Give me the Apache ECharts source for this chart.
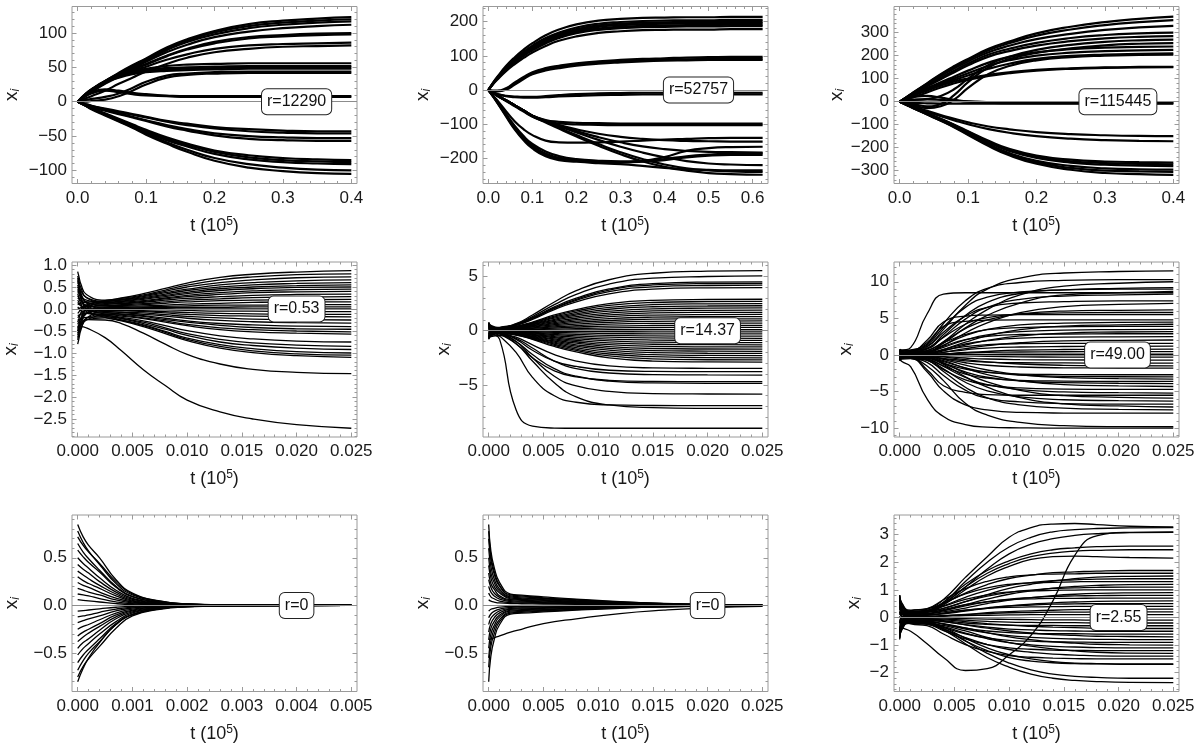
<!DOCTYPE html>
<html><head><meta charset="utf-8">
<script src="https://cdn.jsdelivr.net/npm/echarts@6/dist/echarts.min.js"></script>
<style>html,body{margin:0;padding:0;background:#fff}#c{width:1201px;height:744px}</style>
</head><body><div id="c"></div>
<script>
// ================= DATA =================
const rLabels = ['r=12290', 'r=52757', 'r=115445', 'r=0.53', 'r=14.37', 'r=49.00', 'r=0', 'r=0', 'r=2.55'];

// ---- panel 1 ----
const p1Time = [0, 0.01, 0.02, 0.04, 0.06, 0.08, 0.1, 0.13, 0.16, 0.2, 0.25, 0.3, 0.35, 0.4];
const p1Lines = [
[0,9,17,30,42,53,63,79,91,103,113,118,121,123],
[0,9,17,30,41,52,62,77,89,101,110,115,118,120],
[0,8,16,29,40,51,60,75,87,98,107,112,115,117],
[0,8,16,28,39,49,58,72,83,94,102,107,110,112],
[0,8,15,27,38,47,55,67,77,87,94,97,99,100],
[0,7,15,27,37,46,54,66,76,85,92,95,97,98],
[0,7,14,26,36,44,51,61,69,77,82,84,85,86],
[0,4,8,16,26,35,44,55,64,72,77,80,81,82],
[0,10,18,30,38,44,48,52,54,55,56,56,56,56],
[0,10,18,29,37,42,46,49,50,51,52,52,52,52],
[0,9,17,29,36,41,44,47,48,49,50,50,50,50],
[0,9,17,28,35,40,43,45,46,47,48,48,48,48],
[0,2,4,7,12,20,29,38,41,43,44,44,44,44],
[0,0,1,3,8,16,25,35,39,41,42,42,42,42],
[0,8,14,18,16,13,11,9,8,8,8,8,8,8],
[0,7,12,16,14,11,9,8,7,7,7,7,7,7],
[0,-3,-6,-10,-14,-18,-22,-28,-32,-37,-40,-42,-43,-43],
[0,-3,-6,-11,-15,-19,-23,-29,-34,-39,-43,-45,-46,-46],
[0,-4,-7,-12,-17,-22,-27,-34,-40,-46,-50,-52,-53,-53],
[0,-4,-8,-13,-18,-23,-28,-36,-42,-49,-54,-56,-57,-57],
[0,-4,-9,-17,-25,-33,-41,-52,-61,-71,-78,-82,-84,-85],
[0,-5,-9,-18,-26,-34,-43,-54,-63,-73,-81,-85,-87,-88],
[0,-5,-10,-18,-27,-35,-44,-56,-65,-76,-84,-88,-90,-91],
[0,-5,-10,-19,-28,-37,-46,-59,-70,-82,-91,-96,-99,-100],
[0,-5,-11,-20,-29,-38,-48,-61,-73,-86,-96,-101,-104,-105]
];
const p1XTicks = [0, 0.1, 0.2, 0.3, 0.4];
const p1XTickLabels = ['0.0', '0.1', '0.2', '0.3', '0.4'];
const p1YTicks = [-100, -50, 0, 50, 100];
const p1YTickLabels = ['\u2212100', '\u221250', '0', '50', '100'];

// ---- panel 2 ----
const p2Time = [0, 0.01, 0.02, 0.04, 0.06, 0.08, 0.1, 0.13, 0.16, 0.2, 0.25, 0.3, 0.35, 0.4, 0.45, 0.5, 0.55, 0.6226];
const p2Lines = [
[0,20,38,70,96,118,137,160,177,192,203,208,211,212,213,213,214,214],
[0,19,36,66,91,112,130,152,168,183,194,199,202,203,204,204,205,205],
[0,19,35,64,88,109,127,148,164,178,189,194,197,198,199,199,200,200],
[0,18,34,62,86,106,123,144,160,174,185,190,193,194,195,195,196,196],
[0,17,33,60,83,103,119,140,156,170,180,185,188,189,190,190,191,191],
[0,17,32,58,81,100,116,136,152,166,176,181,184,185,186,186,187,187],
[0,16,30,55,76,94,110,129,144,157,167,172,175,176,177,177,178,178],
[0,-2,-2,5,22,38,52,64,71,78,84,88,91,93,95,96,97,97],
[0,-3,-3,3,19,35,49,60,67,74,80,84,87,89,90,91,92,92],
[0,-3,-4,1,16,32,46,57,64,71,77,81,84,86,87,88,88,88],
[0,-6,-12,-17,-19,-20,-20,-18,-15,-12,-10,-9,-8,-8,-8,-8,-8,-8],
[0,-6,-12,-18,-21,-22,-22,-21,-19,-17,-15,-14,-13,-13,-13,-13,-13,-13],
[0,-8,-16,-30,-45,-60,-75,-88,-93,-96,-97,-98,-98,-98,-98,-98,-98,-98],
[0,-8,-17,-32,-48,-63,-78,-92,-98,-101,-102,-103,-103,-103,-103,-103,-103,-103],
[0,-8,-16,-30,-45,-60,-75,-90,-102,-115,-128,-137,-143,-147,-149,-150,-151,-151],
[0,-8,-16,-30,-45,-60,-75,-91,-106,-124,-146,-166,-183,-197,-208,-215,-218,-220],
[0,-8,-16,-30,-45,-60,-76,-93,-110,-132,-158,-182,-202,-218,-229,-235,-238,-240],
[0,-8,-16,-31,-46,-61,-77,-95,-113,-136,-163,-188,-209,-225,-236,-243,-246,-248],
[0,-15,-30,-62,-92,-115,-132,-148,-153,-154,-153,-151,-148,-145,-143,-141,-140,-140],
[0,-16,-33,-70,-105,-135,-158,-180,-193,-202,-207,-209,-207,-196,-178,-170,-167,-166],
[0,-17,-35,-73,-110,-140,-163,-186,-198,-205,-210,-211,-208,-202,-194,-189,-186,-185],
[0,-17,-36,-75,-113,-144,-167,-190,-201,-207,-211,-212,-210,-205,-197,-192,-190,-190],
[0,-18,-37,-77,-116,-147,-171,-194,-205,-210,-214,-217,-222,-228,-232,-234,-235,-235],
[0,-8,-16,-30,-45,-60,-75,-90,-104,-120,-138,-153,-165,-173,-178,-181,-182,-183]
];
const p2XTicks = [0, 0.1, 0.2, 0.3, 0.4, 0.5, 0.6];
const p2XTickLabels = ['0.0', '0.1', '0.2', '0.3', '0.4', '0.5', '0.6'];
const p2YTicks = [-200, -100, 0, 100, 200];
const p2YTickLabels = ['\u2212200', '\u2212100', '0', '100', '200'];

// ---- panel 3 ----
const p3Time = [0, 0.01, 0.02, 0.04, 0.06, 0.08, 0.1, 0.13, 0.16, 0.2, 0.25, 0.3, 0.35, 0.4];
const p3Lines = [
[0,20,40,80,120,155,186,230,261,297,326,346,360,370],
[0,20,40,78,117,151,182,224,254,287,314,333,346,355],
[0,19,38,75,112,145,175,215,243,272,295,312,323,330],
[0,18,36,70,104,136,166,205,230,256,277,290,297,300],
[0,17,34,66,98,128,158,196,220,244,263,275,282,285],
[0,5,8,12,25,55,100,160,195,225,247,260,267,270],
[0,-5,-10,-20,-10,30,85,150,185,212,232,245,252,255],
[0,15,30,58,85,110,135,170,195,215,228,235,238,240],
[0,15,29,55,80,102,124,156,180,200,213,220,223,225],
[0,14,28,52,75,95,114,143,165,186,199,205,208,210],
[0,-8,-15,-28,-20,10,60,120,155,180,194,200,203,205],
[0,12,25,48,70,88,101,117,128,138,145,149,151,152],
[0,10,20,40,62,80,95,112,124,135,143,147,149,150],
[0,5,8,10,8,4,1,-2,-4,-5,-5,-4,-4,-4],
[0,-3,-5,-7,-8,-8,-8,-8,-8,-8,-8,-8,-8,-8],
[0,12,20,25,18,8,0,-4,-6,-6,-6,-6,-6,-6],
[0,-10,-20,-40,-58,-74,-90,-108,-120,-132,-141,-146,-149,-150],
[0,-11,-22,-44,-63,-81,-98,-119,-135,-150,-161,-167,-170,-172],
[0,-12,-25,-50,-74,-100,-128,-170,-205,-234,-252,-260,-263,-265],
[0,-12,-25,-51,-75,-102,-131,-174,-210,-240,-259,-267,-270,-272],
[0,-13,-26,-52,-77,-104,-134,-178,-214,-245,-265,-274,-278,-280],
[0,-13,-27,-54,-80,-108,-139,-185,-223,-257,-279,-290,-294,-295],
[0,-14,-28,-55,-82,-110,-142,-189,-228,-264,-288,-300,-303,-305],
[0,-14,-28,-56,-83,-112,-145,-193,-233,-270,-296,-310,-315,-318]
];
const p3XTicks = [0, 0.1, 0.2, 0.3, 0.4];
const p3XTickLabels = ['0.0', '0.1', '0.2', '0.3', '0.4'];
const p3YTicks = [-300, -200, -100, 0, 100, 200, 300];
const p3YTickLabels = ['\u2212300', '\u2212200', '\u2212100', '0', '100', '200', '300'];

// ---- panel 4 ----
const p4Time = [0, 0.0001, 0.0003, 0.0008, 0.0025, 0.004, 0.006, 0.008, 0.01, 0.013, 0.016, 0.02, 0.025];
const p4Lines = [
[0.85,0.75,0.56,0.33,0.20,0.25,0.35,0.47,0.59,0.72,0.79,0.84,0.87],
[-0.3,-0.23,-0.08,0.09,0.19,0.24,0.32,0.43,0.54,0.66,0.73,0.78,0.8],
[0.6,0.54,0.41,0.26,0.18,0.22,0.3,0.4,0.5,0.6,0.66,0.71,0.73],
[0.1,0.11,0.13,0.16,0.17,0.21,0.28,0.37,0.45,0.55,0.6,0.64,0.66],
[-0.6,-0.49,-0.26,0.01,0.16,0.2,0.26,0.34,0.42,0.5,0.55,0.58,0.6],
[0.4,0.36,0.29,0.2,0.15,0.18,0.24,0.31,0.38,0.46,0.5,0.53,0.55],
[0.75,0.66,0.48,0.26,0.14,0.17,0.22,0.28,0.35,0.42,0.46,0.49,0.5],
[-0.1,-0.07,0,0.08,0.12,0.15,0.19,0.25,0.31,0.37,0.41,0.44,0.45],
[0.25,0.23,0.19,0.14,0.11,0.13,0.17,0.23,0.28,0.33,0.37,0.39,0.4],
[-0.45,-0.37,-0.2,-0.01,0.1,0.12,0.15,0.2,0.24,0.28,0.31,0.33,0.34],
[0.5,0.44,0.31,0.16,0.08,0.1,0.12,0.16,0.2,0.23,0.26,0.27,0.28],
[0,0.01,0.03,0.06,0.07,0.08,0.1,0.13,0.16,0.19,0.2,0.21,0.22],
[-0.7,-0.59,-0.36,-0.1,0.05,0.06,0.07,0.09,0.11,0.13,0.15,0.16,0.16],
[0.3,0.26,0.18,0.09,0.04,0.04,0.05,0.06,0.07,0.09,0.09,0.1,0.1],
[-0.2,-0.17,-0.1,-0.02,0.02,0.02,0.03,0.03,0.04,0.04,0.05,0.05,0.05],
[0.65,0.55,0.36,0.14,0.01,0.01,0.01,0.01,0,0,0,0,0],
[-0.5,-0.43,-0.28,-0.1,0,0,-0.01,-0.02,-0.03,-0.05,-0.05,-0.06,-0.06],
[0.15,0.12,0.07,0.01,-0.02,-0.03,-0.04,-0.06,-0.08,-0.1,-0.11,-0.12,-0.12],
[-0.35,-0.3,-0.21,-0.09,-0.03,-0.04,-0.06,-0.09,-0.12,-0.15,-0.16,-0.17,-0.18],
[0.45,0.38,0.23,0.05,-0.05,-0.07,-0.09,-0.13,-0.17,-0.2,-0.23,-0.24,-0.25],
[-0.8,-0.69,-0.47,-0.21,-0.06,-0.08,-0.12,-0.16,-0.21,-0.26,-0.29,-0.31,-0.32],
[0.2,0.16,0.07,-0.02,-0.08,-0.11,-0.15,-0.21,-0.27,-0.33,-0.36,-0.39,-0.4],
[-0.15,-0.14,-0.12,-0.1,-0.09,-0.12,-0.17,-0.24,-0.3,-0.37,-0.42,-0.45,-0.46],
[0.55,0.45,0.25,0.02,-0.11,-0.14,-0.2,-0.27,-0.35,-0.43,-0.47,-0.5,-0.52],
[-0.55,-0.49,-0.36,-0.21,-0.12,-0.16,-0.22,-0.3,-0.38,-0.47,-0.52,-0.55,-0.57],
[0.05,0.02,-0.04,-0.1,-0.14,-0.19,-0.27,-0.38,-0.49,-0.61,-0.68,-0.73,-0.75],
[-0.65,-0.58,-0.43,-0.25,-0.15,-0.21,-0.3,-0.43,-0.56,-0.69,-0.77,-0.82,-0.85],
[0.35,0.27,0.12,-0.06,-0.16,-0.22,-0.33,-0.46,-0.6,-0.75,-0.83,-0.89,-0.92],
[-0.25,-0.24,-0.22,-0.19,-0.18,-0.25,-0.36,-0.51,-0.66,-0.81,-0.9,-0.97,-1.0],
[0.7,0.57,0.3,-0.01,-0.19,-0.26,-0.38,-0.53,-0.69,-0.85,-0.95,-1.02,-1.05],
[-0.4,-0.37,-0.31,-0.24,-0.2,-0.27,-0.4,-0.56,-0.72,-0.89,-0.99,-1.06,-1.1],
[-0.5,-0.44,-0.33,-0.24,-0.25,-0.33,-0.55,-0.8,-1.03,-1.25,-1.37,-1.44,-1.47],
[-0.42,-0.4,-0.4,-0.43,-0.65,-0.95,-1.38,-1.74,-2.07,-2.34,-2.5,-2.63,-2.71]
];
const p4XTicks = [0, 0.005, 0.01, 0.015, 0.02, 0.025];
const p4XTickLabels = ['0.000', '0.005', '0.010', '0.015', '0.020', '0.025'];
const p4YTicks = [-2.5, -2, -1.5, -1, -0.5, 0, 0.5, 1];
const p4YTickLabels = ['\u22122.5', '\u22122.0', '\u22121.5', '\u22121.0', '\u22120.5', '0.0', '0.5', '1.0'];

// ---- panel 5 ----
const p5Time = [0, 0.0002, 0.001, 0.0025, 0.004, 0.006, 0.008, 0.011, 0.015, 0.02, 0.025];
const p5Lines = [
[0.6,0.35,0.3,0.65,1.45,2.65,3.7,4.7,5.3,5.5,5.55],
[-0.3,0,0.28,0.6,1.3,2.4,3.35,4.3,4.85,5.0,5.05],
[0.2,0.24,0.27,0.55,1.2,2.2,3.0,3.85,4.35,4.48,4.5],
[0.8,0.5,0.26,0.55,1.15,2.1,2.9,3.75,4.22,4.35,4.37],
[-0.6,-0.15,0.25,0.5,1.1,2.05,2.8,3.6,4.05,4.17,4.2],
[0.4,0.32,0.24,0.5,1.05,1.95,2.65,3.4,3.83,3.95,3.97],
[-0.2,0,0.2,0.4,0.8,1.45,1.95,2.5,2.8,2.88,2.9],
[0.5,0.35,0.19,0.38,0.75,1.35,1.82,2.33,2.6,2.68,2.7],
[-0.7,-0.25,0.18,0.35,0.7,1.25,1.7,2.15,2.4,2.48,2.5],
[0.1,0.14,0.17,0.33,0.65,1.15,1.56,1.98,2.21,2.28,2.3],
[0.7,0.43,0.16,0.3,0.6,1.05,1.43,1.8,2.02,2.08,2.1],
[-0.4,-0.12,0.15,0.28,0.55,0.95,1.3,1.63,1.83,1.88,1.9],
[0.3,0.22,0.14,0.25,0.5,0.85,1.15,1.46,1.64,1.69,1.7],
[-0.55,-0.2,0.13,0.22,0.44,0.75,1.02,1.29,1.44,1.49,1.5],
[0.6,0.36,0.12,0.2,0.38,0.65,0.88,1.12,1.25,1.29,1.3],
[-0.1,0,0.1,0.17,0.33,0.55,0.75,0.94,1.06,1.09,1.1],
[0.35,0.22,0.09,0.14,0.27,0.45,0.61,0.77,0.86,0.89,0.9],
[-0.75,-0.34,0.07,0.11,0.21,0.35,0.47,0.6,0.67,0.69,0.7],
[0.15,0.1,0.05,0.08,0.15,0.25,0.34,0.43,0.48,0.5,0.5],
[0.75,0.39,0.03,0.05,0.09,0.15,0.2,0.26,0.29,0.3,0.3],
[-0.3,-0.14,0.01,0.02,0.03,0.05,0.07,0.09,0.1,0.1,0.1],
[0.45,0.22,-0.01,-0.02,-0.03,-0.05,-0.07,-0.09,-0.1,-0.1,-0.1],
[-0.5,-0.26,-0.03,-0.05,-0.09,-0.15,-0.2,-0.26,-0.29,-0.3,-0.3],
[0.25,0.1,-0.05,-0.08,-0.15,-0.25,-0.34,-0.43,-0.48,-0.5,-0.5],
[-0.15,-0.11,-0.07,-0.11,-0.21,-0.35,-0.47,-0.6,-0.67,-0.69,-0.7],
[0.55,0.23,-0.09,-0.14,-0.27,-0.45,-0.61,-0.77,-0.86,-0.89,-0.9],
[-0.65,-0.38,-0.1,-0.17,-0.33,-0.55,-0.75,-0.94,-1.06,-1.09,-1.1],
[0.05,-0.03,-0.12,-0.2,-0.38,-0.65,-0.88,-1.12,-1.25,-1.29,-1.3],
[0.65,0.26,-0.13,-0.22,-0.44,-0.75,-1.02,-1.29,-1.44,-1.49,-1.5],
[-0.35,-0.25,-0.14,-0.25,-0.5,-0.85,-1.15,-1.46,-1.64,-1.69,-1.7],
[0.2,0.03,-0.15,-0.28,-0.55,-0.95,-1.3,-1.63,-1.83,-1.88,-1.9],
[-0.8,-0.48,-0.16,-0.3,-0.6,-1.05,-1.43,-1.8,-2.02,-2.08,-2.1],
[0.4,0.12,-0.17,-0.33,-0.65,-1.15,-1.56,-1.98,-2.21,-2.28,-2.3],
[-0.25,-0.22,-0.18,-0.35,-0.7,-1.25,-1.7,-2.15,-2.4,-2.48,-2.5],
[0.7,0.26,-0.19,-0.38,-0.75,-1.35,-1.82,-2.33,-2.6,-2.68,-2.7],
[-0.45,-0.32,-0.2,-0.4,-0.8,-1.45,-1.95,-2.5,-2.8,-2.88,-2.9],
[0.3,0.05,-0.2,-0.6,-1.3,-2.2,-2.8,-3.25,-3.43,-3.47,-3.48],
[-0.6,-0.4,-0.25,-0.8,-1.8,-2.8,-3.3,-3.65,-3.76,-3.78,-3.78],
[0.1,-0.05,-0.25,-0.7,-1.6,-2.8,-3.5,-3.9,-4.05,-4.08,-4.09],
[0.5,0.1,-0.3,-1.2,-2.5,-3.7,-4.25,-4.58,-4.68,-4.7,-4.7],
[-0.2,-0.25,-0.3,-1.0,-2.2,-3.5,-4.2,-4.65,-4.82,-4.85,-4.86],
[-0.4,-0.4,-0.4,-1.0,-2.5,-4.2,-5.1,-5.6,-5.8,-5.84,-5.85],
[0.35,0,-0.5,-2.0,-4.3,-6.0,-6.6,-6.85,-6.9,-6.92,-6.92],
[-0.7,-0.55,-0.45,-1.2,-2.8,-4.8,-6.1,-6.85,-7.1,-7.16,-7.17],
[0,-0.2,-0.8,-7.3,-8.8,-8.98,-9.0,-9.0,-9.0,-9.0,-9.0]
];
const p5XTicks = [0, 0.005, 0.01, 0.015, 0.02, 0.025];
const p5XTickLabels = ['0.000', '0.005', '0.010', '0.015', '0.020', '0.025'];
const p5YTicks = [-5, 0, 5];
const p5YTickLabels = ['\u22125', '0', '5'];

// ---- panel 6 ----
const p6Time = [0, 0.0002, 0.001, 0.0025, 0.004, 0.006, 0.008, 0.011, 0.015, 0.02, 0.025];
const p6Lines = [
[0.5,0.6,0.7,1.2,3.5,6.8,9.0,10.5,11.2,11.4,11.5],
[-0.3,0.15,0.6,1.5,4.3,7.4,9.1,9.9,10.2,10.3,10.3],
[0.7,0.65,0.6,0.5,1.8,4.2,6.2,8.2,9.4,9.8,10.0],
[-0.6,0,0.55,0.9,2.8,5.4,7.2,8.4,8.9,9.1,9.2],
[0.2,0.35,0.5,1.35,3.8,6.5,7.9,8.6,8.9,9.0,9.0],
[-0.1,0.2,0.5,0.45,1.6,3.7,5.4,7.1,8.2,8.5,8.7],
[0.4,0.6,1.0,5.6,8.3,8.5,8.5,8.5,8.5,8.5,8.5],
[0.8,0.65,0.5,0.8,2.5,4.9,6.5,7.6,8.05,8.2,8.3],
[-0.5,0,0.45,1.1,3.1,5.3,6.5,7.1,7.3,7.4,7.4],
[0.3,0.35,0.4,0.35,1.3,3.0,4.4,5.8,6.6,6.9,7.05],
[-0.7,-0.15,0.4,0.6,1.8,3.6,4.8,5.6,6.0,6.1,6.15],
[0.6,0.5,0.35,0.9,2.4,4.2,5.1,5.6,5.75,5.8,5.8],
[0.1,0.2,0.35,2.0,4.5,5.3,5.45,5.5,5.5,5.5,5.5],
[-0.4,-0.05,0.3,1.7,3.9,4.6,4.75,4.8,4.8,4.8,4.8],
[0.45,0.35,0.27,0.45,1.35,2.65,3.5,4.1,4.35,4.45,4.5],
[-0.2,0.05,0.25,0.2,0.75,1.75,2.6,3.45,3.95,4.1,4.2],
[0.75,0.5,0.23,0.6,1.65,2.8,3.45,3.75,3.85,3.9,3.9],
[-0.75,-0.27,0.21,0.35,1.05,2.05,2.75,3.2,3.4,3.47,3.5],
[0.15,0.17,0.19,0.16,0.58,1.35,2.0,2.6,3.0,3.14,3.2],
[-0.45,-0.14,0.17,0.45,1.2,2.1,2.55,2.8,2.87,2.9,2.9],
[0.55,0.35,0.15,0.25,0.75,1.5,1.95,2.3,2.43,2.48,2.5],
[-0.6,-0.25,0.12,0.1,0.37,0.86,1.27,1.68,1.93,2.0,2.05],
[0.25,0.17,0.1,0.24,0.67,1.15,1.4,1.54,1.58,1.6,1.6],
[-0.15,-0.04,0.07,0.12,0.36,0.71,0.94,1.09,1.16,1.19,1.2],
[0.65,0.35,0.05,0.04,0.14,0.34,0.5,0.66,0.75,0.78,0.8],
[-0.35,-0.15,0.03,0.05,0.14,0.27,0.35,0.41,0.44,0.45,0.45],
[0.35,0.18,0.01,0.02,0.04,0.07,0.09,0.1,0.1,0.1,0.1],
[-0.8,-0.4,-0.02,-0.02,-0.05,-0.13,-0.19,-0.25,-0.28,-0.29,-0.3],
[0.05,0,-0.04,-0.07,-0.21,-0.41,-0.55,-0.64,-0.68,-0.69,-0.7],
[0.5,0.22,-0.07,-0.17,-0.46,-0.79,-0.97,-1.06,-1.09,-1.1,-1.1],
[-0.25,-0.17,-0.09,-0.08,-0.27,-0.63,-0.93,-1.23,-1.41,-1.47,-1.5],
[0.7,0.3,-0.11,-0.18,-0.54,-1.06,-1.4,-1.64,-1.75,-1.78,-1.8],
[-0.55,-0.36,-0.16,-0.4,-1.13,-1.94,-2.38,-2.6,-2.67,-2.7,-2.7],
[0.2,0,-0.18,-0.3,-0.9,-1.77,-2.34,-2.73,-2.91,-2.97,-3.0],
[-0.4,-0.3,-0.2,-0.17,-0.6,-1.39,-2.05,-2.7,-3.1,-3.23,-3.3],
[0.6,0.2,-0.22,-0.54,-1.5,-2.6,-3.17,-3.46,-3.56,-3.6,-3.6],
[-0.7,-0.47,-0.23,-0.39,-1.17,-2.3,-3.04,-3.55,-3.78,-3.86,-3.9],
[0.1,-0.08,-0.26,-0.22,-0.77,-1.8,-2.67,-3.53,-4.04,-4.21,-4.3],
[-0.1,-0.2,-0.28,-0.7,-2.0,-3.4,-4.1,-4.5,-4.65,-4.7,-4.7],
[0.4,0.05,-0.31,-0.52,-1.56,-3.07,-4.06,-4.73,-5.04,-5.15,-5.2],
[-0.3,-0.3,-0.35,-2.0,-4.2,-5.1,-5.4,-5.5,-5.5,-5.5,-5.5],
[0.75,0.2,-0.35,-0.3,-1.06,-2.48,-3.66,-4.84,-5.55,-5.78,-5.9],
[-0.5,-0.45,-0.38,-0.63,-1.89,-3.72,-4.91,-5.73,-6.11,-6.24,-6.3],
[0.3,-0.05,-0.4,-1.0,-2.8,-4.8,-5.9,-6.4,-6.63,-6.7,-6.7],
[-0.2,-0.3,-0.42,-0.36,-1.28,-2.98,-4.4,-5.82,-6.67,-6.96,-7.1],
[0.55,0.05,-0.45,-0.75,-2.25,-4.4,-5.85,-6.8,-7.25,-7.42,-7.5],
[-0.65,-0.55,-0.5,-2.3,-4.9,-6.8,-7.5,-7.85,-7.93,-7.95,-7.95],
[0.15,-0.1,-0.3,-1.5,-3.5,-6.6,-8.2,-9.2,-9.65,-9.78,-9.8],
[-0.45,-0.9,-1.6,-6.0,-8.4,-9.5,-9.85,-9.95,-10,-10,-10]
];
const p6XTicks = [0, 0.005, 0.01, 0.015, 0.02, 0.025];
const p6XTickLabels = ['0.000', '0.005', '0.010', '0.015', '0.020', '0.025'];
const p6YTicks = [-10, -5, 0, 5, 10];
const p6YTickLabels = ['\u221210', '\u22125', '0', '5', '10'];

// ---- panel 7 ----
const p7Time = [0, 0.0001, 0.0002, 0.0004, 0.0007, 0.001, 0.0015, 0.002, 0.003, 0.005];
const p7Lines = [
[0.85,0.72,0.63,0.5,0.27,0.13,0.047,0.017,0.003,0],
[0.78,0.66,0.57,0.43,0.23,0.11,0.04,0.014,0.003,0],
[0.72,0.63,0.56,0.44,0.25,0.12,0.045,0.016,0.003,0],
[0.65,0.56,0.49,0.37,0.2,0.095,0.035,0.013,0.002,0],
[0.58,0.51,0.45,0.35,0.19,0.09,0.033,0.012,0.002,0],
[0.5,0.44,0.39,0.29,0.16,0.075,0.028,0.01,0.002,0],
[0.43,0.38,0.34,0.25,0.14,0.065,0.024,0.009,0.002,0],
[0.36,0.32,0.28,0.21,0.12,0.054,0.02,0.007,0.001,0],
[0.3,0.26,0.23,0.18,0.1,0.045,0.017,0.006,0.001,0],
[0.24,0.21,0.19,0.14,0.077,0.036,0.013,0.005,0.001,0],
[0.18,0.16,0.14,0.11,0.058,0.027,0.01,0.004,0.001,0],
[0.12,0.11,0.1,0.072,0.038,0.018,0.007,0.002,0,0],
[0.06,0.054,0.048,0.036,0.019,0.009,0.003,0.001,0,0],
[-0.06,-0.054,-0.048,-0.036,-0.019,-0.009,-0.003,-0.001,0,0],
[-0.12,-0.11,-0.1,-0.072,-0.038,-0.018,-0.007,-0.002,0,0],
[-0.18,-0.16,-0.14,-0.11,-0.058,-0.027,-0.01,-0.004,-0.001,0],
[-0.25,-0.22,-0.2,-0.15,-0.08,-0.038,-0.014,-0.005,-0.001,0],
[-0.32,-0.28,-0.25,-0.19,-0.1,-0.048,-0.018,-0.006,-0.001,0],
[-0.38,-0.33,-0.29,-0.22,-0.12,-0.057,-0.021,-0.008,-0.002,0],
[-0.45,-0.39,-0.35,-0.26,-0.14,-0.068,-0.025,-0.009,-0.002,0],
[-0.52,-0.45,-0.4,-0.3,-0.17,-0.078,-0.029,-0.01,-0.002,0],
[-0.6,-0.52,-0.46,-0.35,-0.19,-0.09,-0.033,-0.012,-0.002,0],
[-0.68,-0.58,-0.5,-0.38,-0.2,-0.095,-0.035,-0.013,-0.002,0],
[-0.75,-0.64,-0.56,-0.43,-0.24,-0.11,-0.041,-0.015,-0.003,0],
[-0.8,-0.66,-0.55,-0.39,-0.2,-0.1,-0.035,-0.013,-0.002,0]
];
const p7XTicks = [0, 0.001, 0.002, 0.003, 0.004, 0.005];
const p7XTickLabels = ['0.000', '0.001', '0.002', '0.003', '0.004', '0.005'];
const p7YTicks = [-0.5, 0, 0.5];
const p7YTickLabels = ['\u22120.5', '0.0', '0.5'];

// ---- panel 8 ----
const p8Time = [0, 0.0002, 0.0005, 0.001, 0.002, 0.003, 0.005, 0.008, 0.012, 0.016, 0.02, 0.025];
const p8Lines = [
[0.85,0.57,0.4,0.24,0.12,0.108,0.09,0.066,0.04,0.022,0.011,0.004],
[0.78,0.52,0.36,0.21,0.1,0.09,0.075,0.055,0.033,0.018,0.009,0.003],
[0.7,0.48,0.33,0.2,0.11,0.1,0.08,0.06,0.036,0.02,0.01,0.003],
[0.6,0.41,0.28,0.17,0.09,0.08,0.068,0.05,0.03,0.016,0.008,0.003],
[0.5,0.34,0.24,0.15,0.08,0.072,0.06,0.044,0.026,0.014,0.007,0.002],
[0.42,0.29,0.2,0.13,0.07,0.063,0.053,0.039,0.023,0.013,0.006,0.002],
[0.34,0.23,0.17,0.1,0.06,0.054,0.045,0.033,0.02,0.011,0.005,0.002],
[0.27,0.19,0.13,0.085,0.05,0.045,0.038,0.028,0.017,0.009,0.005,0.002],
[0.2,0.14,0.1,0.066,0.04,0.036,0.03,0.022,0.013,0.007,0.004,0.001],
[0.13,0.09,0.07,0.046,0.03,0.027,0.023,0.017,0.01,0.005,0.003,0.001],
[0.06,0.045,0.035,0.026,0.02,0.018,0.015,0.011,0.007,0.004,0.002,0.001],
[-0.06,-0.04,-0.03,-0.018,-0.01,-0.009,-0.008,-0.006,-0.003,-0.002,-0.001,0],
[-0.13,-0.09,-0.062,-0.038,-0.02,-0.018,-0.015,-0.011,-0.007,-0.004,-0.002,-0.001],
[-0.2,-0.135,-0.095,-0.057,-0.03,-0.027,-0.023,-0.017,-0.01,-0.005,-0.003,-0.001],
[-0.28,-0.19,-0.13,-0.078,-0.04,-0.036,-0.03,-0.022,-0.013,-0.007,-0.004,-0.001],
[-0.36,-0.24,-0.17,-0.1,-0.05,-0.045,-0.038,-0.028,-0.017,-0.009,-0.005,-0.002],
[-0.45,-0.3,-0.21,-0.12,-0.06,-0.054,-0.045,-0.033,-0.02,-0.011,-0.005,-0.002],
[-0.55,-0.37,-0.25,-0.147,-0.07,-0.063,-0.053,-0.039,-0.023,-0.013,-0.006,-0.002],
[-0.65,-0.43,-0.3,-0.17,-0.08,-0.072,-0.06,-0.044,-0.026,-0.014,-0.007,-0.002],
[-0.8,-0.53,-0.36,-0.2,-0.09,-0.081,-0.068,-0.05,-0.03,-0.016,-0.008,-0.003],
[-0.36,-0.35,-0.34,-0.32,-0.28,-0.25,-0.19,-0.14,-0.085,-0.05,-0.026,-0.01]
];
const p8XTicks = [0, 0.005, 0.01, 0.015, 0.02, 0.025];
const p8XTickLabels = ['0.000', '0.005', '0.010', '0.015', '0.020', '0.025'];
const p8YTicks = [-0.5, 0, 0.5];
const p8YTickLabels = ['\u22120.5', '0.0', '0.5'];

// ---- panel 9 ----
const p9Time = [0, 0.0002, 0.001, 0.0025, 0.004, 0.006, 0.008, 0.01, 0.012, 0.014, 0.016, 0.018, 0.021, 0.025];
const p9Lines = [
[0.6,0.4,0.2,0.3,0.65,1.45,2.2,2.9,3.25,3.38,3.4,3.36,3.3,3.28],
[-0.2,0,0.18,0.25,0.55,1.3,2.0,2.55,2.9,3.1,3.18,3.22,3.24,3.25],
[0.3,0.25,0.17,0.22,0.5,1.1,1.75,2.3,2.65,2.85,2.97,3.03,3.07,3.08],
[-0.35,-0.38,-0.5,-0.95,-1.45,-1.92,-1.85,-1.35,-0.65,0.6,2.25,2.95,3.08,3.1],
[0.8,0.5,0.15,0.22,0.55,1.2,1.7,2.05,2.3,2.45,2.52,2.56,2.58,2.58],
[-0.5,-0.2,0.14,0.2,0.5,1.1,1.6,1.95,2.2,2.33,2.4,2.43,2.45,2.45],
[0.1,0.12,0.13,0.18,0.45,1.0,1.5,1.85,2.1,2.2,2.22,2.2,2.17,2.15],
[0.5,0.38,0.26,0.31,0.51,0.88,1.19,1.41,1.53,1.62,1.65,1.68,1.7,1.7],
[-0.6,-0.18,0.24,0.32,0.64,1.04,1.31,1.47,1.54,1.57,1.58,1.6,1.6,1.6],
[0.8,0.52,0.23,0.24,0.33,0.57,0.83,1.05,1.2,1.32,1.4,1.46,1.49,1.5],
[-0.2,0,0.21,0.25,0.42,0.73,0.98,1.16,1.26,1.33,1.36,1.39,1.4,1.4],
[0.3,0.25,0.2,0.26,0.52,0.85,1.07,1.2,1.25,1.27,1.29,1.3,1.3,1.3],
[-0.75,-0.28,0.18,0.19,0.26,0.46,0.66,0.84,0.96,1.06,1.12,1.16,1.19,1.2],
[0.65,0.41,0.17,0.2,0.33,0.57,0.77,0.91,0.99,1.05,1.07,1.09,1.1,1.1],
[0.1,0.12,0.15,0.2,0.4,0.65,0.82,0.92,0.96,0.98,0.99,1,1,1],
[-0.45,-0.15,0.14,0.14,0.2,0.34,0.5,0.63,0.72,0.79,0.84,0.87,0.89,0.9],
[0.4,0.26,0.12,0.14,0.24,0.42,0.56,0.66,0.72,0.76,0.78,0.79,0.8,0.8],
[-0.3,-0.1,0.11,0.14,0.28,0.46,0.57,0.64,0.67,0.69,0.69,0.7,0.7,0.7],
[0.75,0.42,0.09,0.1,0.13,0.23,0.33,0.42,0.48,0.53,0.56,0.58,0.59,0.6],
[-0.65,-0.29,0.08,0.09,0.15,0.26,0.35,0.42,0.45,0.48,0.49,0.5,0.5,0.5],
[0.2,0.13,0.06,0.08,0.16,0.26,0.33,0.37,0.38,0.39,0.4,0.4,0.4,0.4],
[-0.1,-0.03,0.05,0.05,0.07,0.11,0.17,0.21,0.24,0.26,0.28,0.29,0.3,0.3],
[0.6,0.32,0.03,0.04,0.06,0.1,0.14,0.17,0.18,0.19,0.19,0.2,0.2,0.2],
[-0.8,-0.39,0.02,0.02,0.04,0.07,0.08,0.09,0.1,0.1,0.1,0.1,0.1,0.1],
[0.35,0.17,-0.02,-0.02,-0.02,-0.04,-0.06,-0.07,-0.08,-0.09,-0.09,-0.1,-0.1,-0.1],
[-0.5,-0.27,-0.03,-0.04,-0.06,-0.1,-0.14,-0.17,-0.18,-0.19,-0.19,-0.2,-0.2,-0.2],
[0.7,0.33,-0.05,-0.06,-0.12,-0.2,-0.25,-0.28,-0.29,-0.29,-0.3,-0.3,-0.3,-0.3],
[-0.25,-0.16,-0.06,-0.06,-0.09,-0.15,-0.22,-0.28,-0.32,-0.35,-0.37,-0.39,-0.4,-0.4],
[0.15,0.04,-0.08,-0.09,-0.15,-0.26,-0.35,-0.42,-0.45,-0.48,-0.49,-0.5,-0.5,-0.5],
[-0.7,-0.4,-0.09,-0.12,-0.24,-0.39,-0.49,-0.55,-0.58,-0.59,-0.59,-0.6,-0.6,-0.6],
[0.55,0.22,-0.11,-0.11,-0.15,-0.27,-0.39,-0.49,-0.56,-0.62,-0.65,-0.68,-0.69,-0.7],
[-0.4,-0.26,-0.12,-0.14,-0.24,-0.42,-0.56,-0.66,-0.72,-0.76,-0.78,-0.79,-0.8,-0.8],
[0.45,0.16,-0.14,-0.18,-0.36,-0.59,-0.74,-0.83,-0.86,-0.88,-0.89,-0.9,-0.9,-0.9],
[-0.55,-0.35,-0.15,-0.16,-0.22,-0.38,-0.55,-0.7,-0.8,-0.88,-0.93,-0.97,-0.99,-1],
[0.25,0.04,-0.17,-0.2,-0.33,-0.57,-0.77,-0.91,-0.99,-1.05,-1.07,-1.09,-1.1,-1.1],
[-0.15,-0.17,-0.18,-0.24,-0.48,-0.78,-0.98,-1.1,-1.15,-1.18,-1.19,-1.2,-1.2,-1.2],
[0.8,0.3,-0.2,-0.21,-0.29,-0.49,-0.72,-0.91,-1.04,-1.14,-1.21,-1.26,-1.29,-1.3],
[-0.35,-0.28,-0.21,-0.25,-0.42,-0.73,-0.98,-1.16,-1.26,-1.33,-1.36,-1.39,-1.4,-1.4],
[0.05,-0.09,-0.23,-0.3,-0.6,-0.98,-1.23,-1.38,-1.44,-1.47,-1.49,-1.5,-1.5,-1.5],
[0.4,0.2,-0.1,-0.15,-0.35,-0.75,-1.1,-1.35,-1.5,-1.6,-1.65,-1.67,-1.68,-1.68],
[-0.6,-0.35,-0.12,-0.17,-0.4,-0.85,-1.2,-1.45,-1.58,-1.64,-1.67,-1.68,-1.7,-1.7],
[0.2,0.05,-0.12,-0.2,-0.4,-0.85,-1.3,-1.65,-1.9,-2.05,-2.13,-2.17,-2.2,-2.2],
[-0.75,-0.45,-0.13,-0.22,-0.45,-0.95,-1.45,-1.8,-2.05,-2.2,-2.28,-2.32,-2.35,-2.36]
];
const p9XTicks = [0, 0.005, 0.01, 0.015, 0.02, 0.025];
const p9XTickLabels = ['0.000', '0.005', '0.010', '0.015', '0.020', '0.025'];
const p9YTicks = [-2, -1, 0, 1, 2, 3];
const p9YTickLabels = ['\u22122', '\u22121', '0', '1', '2', '3'];

// ================= LAYOUT / STYLE =================
const FONT = '"Liberation Sans", Arial, Helvetica, sans-serif';
const FRAME = '#9a9a9a';
const TXT = '#1a1a1a';

const panels = [
  {time:p1Time, lines:p1Lines, xt:p1XTicks, xl:p1XTickLabels, yt:p1YTicks, yl:p1YTickLabels},
  {time:p2Time, lines:p2Lines, xt:p2XTicks, xl:p2XTickLabels, yt:p2YTicks, yl:p2YTickLabels},
  {time:p3Time, lines:p3Lines, xt:p3XTicks, xl:p3XTickLabels, yt:p3YTicks, yl:p3YTickLabels},
  {time:p4Time, lines:p4Lines, xt:p4XTicks, xl:p4XTickLabels, yt:p4YTicks, yl:p4YTickLabels},
  {time:p5Time, lines:p5Lines, xt:p5XTicks, xl:p5XTickLabels, yt:p5YTicks, yl:p5YTickLabels},
  {time:p6Time, lines:p6Lines, xt:p6XTicks, xl:p6XTickLabels, yt:p6YTicks, yl:p6YTickLabels},
  {time:p7Time, lines:p7Lines, xt:p7XTicks, xl:p7XTickLabels, yt:p7YTicks, yl:p7YTickLabels},
  {time:p8Time, lines:p8Lines, xt:p8XTicks, xl:p8XTickLabels, yt:p8YTicks, yl:p8YTickLabels},
  {time:p9Time, lines:p9Lines, xt:p9XTicks, xl:p9XTickLabels, yt:p9YTicks, yl:p9YTickLabels}
];

const layout = [
  {left:72,  top:6.5, width:285, height:177, x:[-0.0083,0.4083], y:[-119.1,138.6], xm:0.02, ym:10, lw:2.2, at:0.32, yGap:50},
  {left:483, top:6.5, width:285, height:177, x:[-0.0122,0.6348], y:[-273.6,244.4], xm:0.02, ym:20, lw:2.2, at:0.477, yGap:50},
  {left:894, top:6.5, width:285, height:177, x:[-0.0083,0.4083], y:[-355.7,413.9], xm:0.02, ym:20, lw:2.2, at:0.319, yGap:43},
  {left:72,  top:262, width:285, height:175, x:[-0.00052,0.02552], y:[-2.909,1.068], xm:0.001, ym:0.1, lw:1.3, at:0.02, yGap:51},
  {left:483, top:262, width:285, height:175, x:[-0.00052,0.02552], y:[-9.806,6.338], xm:0.001, ym:1, lw:1.3, at:0.02, yGap:29},
  {left:894, top:262, width:285, height:175, x:[-0.00052,0.02552], y:[-11.2,12.7], xm:0.001, ym:1, lw:1.3, at:0.0199, yGap:38},
  {left:72,  top:515, width:285, height:177, x:[-0.000104,0.005104], y:[-0.903,0.949], xm:0.0002, ym:0.1, lw:1.3, at:0.004, yGap:50},
  {left:483, top:515, width:285, height:177, x:[-0.00052,0.02552], y:[-0.903,0.949], xm:0.001, ym:0.1, lw:1.3, at:0.02, yGap:50},
  {left:894, top:515, width:285, height:177, x:[-0.00052,0.02552], y:[-2.68,3.708], xm:0.001, ym:0.2, lw:1.3, at:0.02, yGap:30}
];

function minorValues(range, step, majors) {
  const out = [];
  const k0 = Math.ceil(range[0] / step - 1e-9), k1 = Math.floor(range[1] / step + 1e-9);
  for (let k = k0; k <= k1; k++) {
    const v = +(k * step).toPrecision(12);
    if (!majors.some(m => Math.abs(m - v) < step * 1e-3)) out.push(v);
  }
  return out;
}
function labelFor(ticks, labels) {
  return function (v) {
    const i = ticks.findIndex(t => Math.abs(t - v) < 1e-9 + Math.abs(t) * 1e-9);
    return i >= 0 ? labels[i] : '';
  };
}

const grids = [], xAxes = [], yAxes = [], series = [];
panels.forEach((p, gi) => {
  const L = layout[gi];
  grids.push({left:L.left, top:L.top, width:L.width, height:L.height, show:true,
    borderColor:FRAME, borderWidth:1, backgroundColor:'transparent'});
  const xMin = minorValues(L.x, L.xm, p.xt), yMin = minorValues(L.y, L.ym, p.yt);
  const mk = (range, pos, ticks, len, extra) => Object.assign({
    gridIndex:gi, type:'value', min:range[0], max:range[1], position:pos,
    axisLine:{show:false, onZero:false}, splitLine:{show:false},
    axisLabel:{show:false},
    axisTick:{show:true, inside:true, length:len, customValues:ticks, lineStyle:{color:FRAME, width:1}}
  }, extra || {});
  const labStyle = {show:true, fontSize:17, fontFamily:FONT, color:TXT};
  xAxes.push(mk(L.x, 'bottom', p.xt, 4.5, {
    axisLabel:Object.assign({}, labStyle, {margin:6, customValues:p.xt, formatter:labelFor(p.xt, p.xl)}),
    name:'t (10{s|5})', nameLocation:'middle', nameGap:32,
    nameTextStyle:{fontSize:18, fontFamily:FONT, color:TXT,
      rich:{s:{fontSize:12, fontFamily:FONT, color:TXT, padding:[0,0,9,0]}}}
  }));
  xAxes.push(mk(L.x, 'bottom', xMin, 2.5));
  xAxes.push(mk(L.x, 'top', p.xt, 4.5));
  xAxes.push(mk(L.x, 'top', xMin, 2.5));
  yAxes.push(mk(L.y, 'left', p.yt, 4.5, {
    axisLabel:Object.assign({}, labStyle, {margin:5, customValues:p.yt, formatter:labelFor(p.yt, p.yl)}),
    name:'{x|x}{i|i}', nameLocation:'middle', nameGap:L.yGap, nameRotate:90,
    nameTextStyle:{fontSize:19, fontFamily:FONT, color:TXT,
      rich:{x:{fontSize:19, fontFamily:FONT, color:TXT}, i:{fontSize:12, fontStyle:'italic', fontFamily:FONT, color:TXT, padding:[9,0,0,0]}}}
  }));
  yAxes.push(mk(L.y, 'left', yMin, 2.5));
  yAxes.push(mk(L.y, 'right', p.yt, 4.5));
  yAxes.push(mk(L.y, 'right', yMin, 2.5));

  const ax = gi * 4;
  p.lines.forEach(line => {
    series.push({type:'line', xAxisIndex:ax, yAxisIndex:ax, data:p.time.map((t, i) => [t, line[i]]),
      symbol:'none', showSymbol:false, smooth:0.5, silent:true, z:2,
      emphasis:{disabled:true}, lineStyle:{color:'#000', width:L.lw}});
  });
  series.push({type:'line', xAxisIndex:ax, yAxisIndex:ax, data:[], symbol:'none', silent:true, z:15,
    markLine:{silent:true, symbol:'none', animation:false, label:{show:false},
      lineStyle:{color:'#8c8c8c', width:1, type:'solid', opacity:1}, data:[{yAxis:0}]}});
  series.push({type:'scatter', xAxisIndex:ax, yAxisIndex:ax, data:[[L.at, 0]], symbol:'rect', symbolSize:[2, 2], silent:true, z:20,
    emphasis:{disabled:true},
    itemStyle:{color:'#ffffff', opacity:1},
    label:{show:true, position:'inside', formatter:rLabels[gi], fontSize:16, fontFamily:FONT, color:'#111', opacity:1,
      backgroundColor:'#ffffff', borderColor:'#222', borderWidth:1, borderRadius:5, padding:[5,5,4,5]}});
});

const chart = echarts.init(document.getElementById('c'), null, {renderer:'canvas'});
chart.setOption({animation:false, backgroundColor:'#fff', grid:grids, xAxis:xAxes, yAxis:yAxes, series:series});
</script></body></html>
